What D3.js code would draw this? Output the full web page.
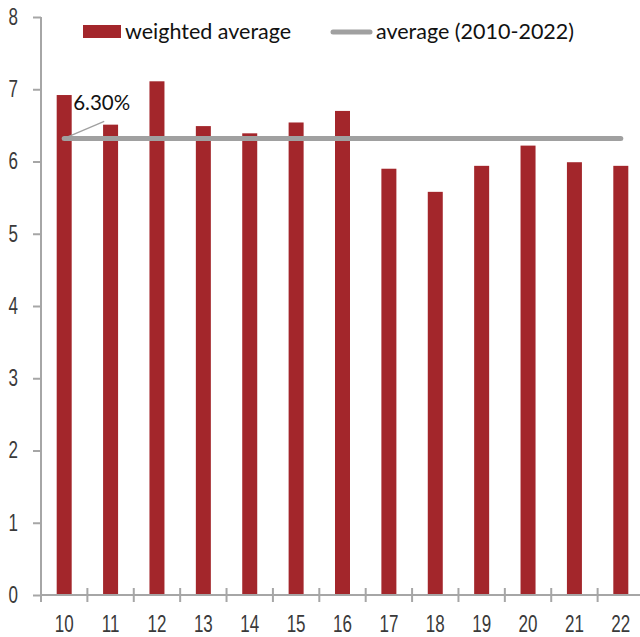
<!DOCTYPE html>
<html><head><meta charset="utf-8">
<script src="https://cdn.jsdelivr.net/npm/d3@7"></script>
<style>
body{margin:0;background:#fff;}
svg{display:block;}
.tick text{font-family:"Liberation Sans",Arial,sans-serif;font-size:23px;fill:#3a3a3a;}
.leg{font-family:Lato,"Open Sans",sans-serif;font-size:21.5px;fill:#111;}
.lab{font-family:Lato,"Open Sans",sans-serif;font-size:20.5px;fill:#111;}
</style></head>
<body>
<svg id="c" width="640" height="637"></svg>
<script>
const categories = ["10","11","12","13","14","15","16","17","18","19","20","21","22"];
const weightedAverage = [6.92,6.51,7.11,6.49,6.39,6.54,6.70,5.90,5.58,5.94,6.22,5.99,5.94];
const averageValue = 6.32;
const averageLabel = "6.30%";
const yTicks = [0,1,2,3,4,5,6,7,8];
const legendLabels = ["weighted average","average (2010-2022)"];

(function(){
const svg = d3.select("#c");
const mLeft = 41, mRight = 644, mTop = 17, mBottom = 595;
const x = d3.scaleBand().domain(categories).range([mLeft,mRight]).paddingInner(0).paddingOuter(0);
const y = d3.scaleLinear().domain([0,8]).range([mBottom,mTop]);
const axisColor = "#a6a6a6";
const barColor = "#a3262b";
const sx = 0.74;

// bars
const bw = 15;
svg.append("g").selectAll("rect").data(weightedAverage).join("rect")
  .attr("x",(d,i)=>x(categories[i])+x.bandwidth()/2-bw/2)
  .attr("width",bw)
  .attr("y",d=>y(d))
  .attr("height",d=>y(0)-y(d))
  .attr("fill",barColor);

// y axis
const ya = svg.append("g").attr("transform",`translate(${mLeft},0)`)
  .call(d3.axisLeft(y).tickValues(yTicks).tickSize(8).tickPadding(14).tickFormat(d3.format("d")));
ya.selectAll("path,line").attr("stroke",axisColor).attr("stroke-width",2);
ya.select(".domain").attr("d",`M0,${mTop}V${mBottom}`);
ya.selectAll(".tick text").attr("x",-23/sx).attr("transform",`scale(${sx},1)`);

// x axis
const xa = svg.append("g").attr("transform",`translate(0,${mBottom})`)
  .call(d3.axisBottom(x).tickSize(0).tickPadding(21));
xa.select(".domain").attr("stroke",axisColor).attr("stroke-width",2).attr("d",`M${mLeft},0H${mRight}`);
xa.selectAll(".tick text").attr("transform",`scale(${sx},1)`);
// boundary ticks crossing axis
const bounds = categories.map(c=>x(c)).concat([mRight]);
svg.append("g").selectAll("line").data(bounds).join("line")
  .attr("x1",d=>d).attr("x2",d=>d).attr("y1",mBottom-7).attr("y2",mBottom+7)
  .attr("stroke",axisColor).attr("stroke-width",2);

// average line
const x0 = x(categories[0])+x.bandwidth()/2, x1 = x(categories[categories.length-1])+x.bandwidth()/2;
svg.append("line").attr("x1",x0).attr("x2",x1).attr("y1",y(averageValue)).attr("y2",y(averageValue))
  .attr("stroke","#a0a0a0").attr("stroke-width",5).attr("stroke-linecap","round");
// leader & label
svg.append("line").attr("x1",x0).attr("y1",y(averageValue)).attr("x2",x0+40).attr("y2",y(averageValue)-17)
  .attr("stroke","#a0a0a0").attr("stroke-width",1.3);
svg.append("text").attr("class","lab").attr("x",x0+9).attr("y",y(averageValue)-28).text(averageLabel);

// legend
svg.append("rect").attr("x",83).attr("y",25).attr("width",38).attr("height",13).attr("fill",barColor);
svg.append("text").attr("class","leg").attr("x",125).attr("y",39).text(legendLabels[0]);
svg.append("line").attr("x1",333).attr("x2",370).attr("y1",32).attr("y2",32)
  .attr("stroke","#a0a0a0").attr("stroke-width",5).attr("stroke-linecap","round");
svg.append("text").attr("class","leg").attr("x",376).attr("y",39).text(legendLabels[1]);
})();
</script>
</body></html>
